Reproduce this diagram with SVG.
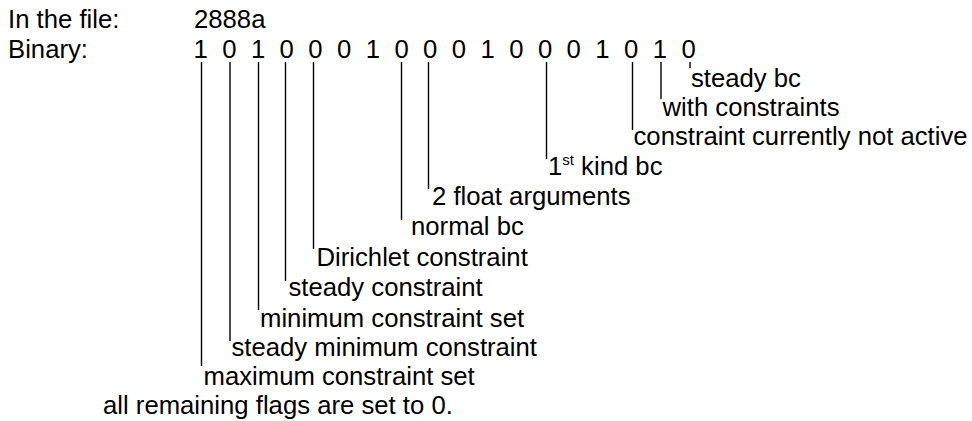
<svg xmlns="http://www.w3.org/2000/svg" width="972" height="421" viewBox="0 0 972 421">
  <style>
    text { font-family: "Liberation Sans", Arial, sans-serif; font-size: 25.7px; fill: #000; }
    .sup { font-size: 15px; }
    .lead { stroke: #000; stroke-width: 1.4; fill: none; }
  </style>
  <rect width="972" height="421" fill="#fff"/>

  <!-- header rows -->
  <g id="file-row">
    <text x="8" y="28">In the file:</text>
    <text x="194" y="28">2888a</text>
  </g>
  <g id="binary-row">
    <text x="8" y="58">Binary:</text>
    <text y="58" x="193.5 222.2 250.9 279.6 308.3 337 365.7 394.4 423.1 451.8 480.5 509.2 537.9 566.6 595.3 624 652.7 681.4">101000100010001010</text>
  </g>

  <!-- leader lines from each bit down to its label -->
  <g id="leaders" class="lead">
    <line x1="690" y1="62" x2="690" y2="68"/>
    <line x1="661" y1="62" x2="661" y2="99"/>
    <line x1="632.5" y1="62" x2="632.5" y2="130"/>
    <line x1="546.5" y1="62" x2="546.5" y2="159"/>
    <line x1="428.5" y1="62" x2="428.5" y2="189"/>
    <line x1="401.5" y1="62" x2="401.5" y2="220"/>
    <line x1="313.5" y1="62" x2="313.5" y2="249"/>
    <line x1="285.5" y1="62" x2="285.5" y2="281"/>
    <line x1="258.5" y1="62" x2="258.5" y2="310"/>
    <line x1="230" y1="62" x2="230" y2="341"/>
    <line x1="201.5" y1="62" x2="201.5" y2="366"/>
  </g>

  <!-- bit meanings -->
  <g id="bit-steady-bc"><text x="691" y="86.5">steady bc</text></g>
  <g id="bit-with-constraints"><text x="662.5" y="115.5">with constraints</text></g>
  <g id="bit-not-active"><text x="633.5" y="145">constraint currently not active</text></g>
  <g id="bit-first-kind"><text x="548" y="175">1<tspan class="sup" dy="-10">st</tspan><tspan dy="10"> kind bc</tspan></text></g>
  <g id="bit-float-args"><text x="432" y="205">2 float arguments</text></g>
  <g id="bit-normal-bc"><text x="411" y="234.5">normal bc</text></g>
  <g id="bit-dirichlet"><text x="316.5" y="265.5">Dirichlet constraint</text></g>
  <g id="bit-steady-constraint"><text x="288.5" y="296">steady constraint</text></g>
  <g id="bit-min-set"><text x="260" y="326.5">minimum constraint set</text></g>
  <g id="bit-steady-min"><text x="231.5" y="356">steady minimum constraint</text></g>
  <g id="bit-max-set"><text x="203.5" y="384.5">maximum constraint set</text></g>
  <g id="note"><text x="103" y="413.5">all remaining flags are set to 0.</text></g>
</svg>
